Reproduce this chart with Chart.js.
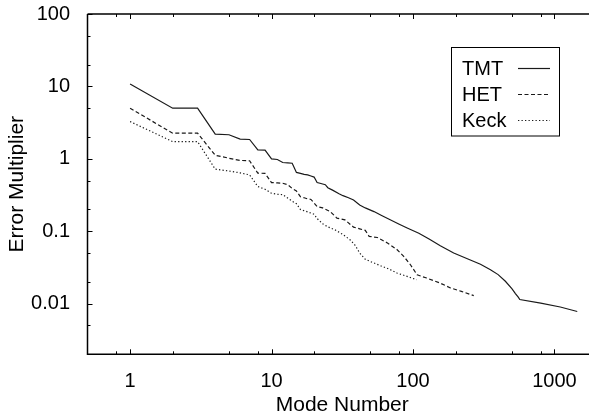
<!DOCTYPE html>
<html>
<head>
<meta charset="utf-8">
<script src="https://cdn.jsdelivr.net/npm/chart.js@4"></script>
<style>
  html, body { margin: 0; padding: 0; background: #fff; overflow: hidden; }
  #wrap { width: 597px; height: 418px; }
</style>
</head>
<body>
<div id="wrap"><canvas id="myCanvas" width="597" height="418"></canvas></div>
<script>
// mode numbers and error multipliers
const tmtModes = [1, 2, 3, 4, 5, 6, 7, 8, 9, 10, 11, 12, 13, 14, 15, 16, 17, 18, 19, 20,
  21, 22, 24, 25, 27, 30, 32, 35, 38, 42, 46, 53, 60, 69, 80, 91, 110, 130, 156, 194,
  240, 300, 353, 400, 450, 500, 530, 555, 569, 800, 1100, 1450];
const tmtValues = [10.8, 5.0, 5.0, 2.19, 2.15, 1.87, 1.85, 1.33, 1.32, 1.0, 0.98, 0.89, 0.88, 0.87, 0.65, 0.63, 0.61, 0.6, 0.58, 0.56,
  0.47, 0.46, 0.44, 0.4, 0.37, 0.33, 0.31, 0.29, 0.27, 0.23, 0.21, 0.187, 0.165, 0.144, 0.125, 0.111, 0.094, 0.078, 0.063, 0.05,
  0.042, 0.035, 0.0295, 0.0252, 0.0204, 0.0161, 0.0138, 0.0123, 0.0114, 0.0102, 0.009, 0.0078];

const hetModes = [1, 2, 3, 4, 5, 6, 7, 8, 9, 10, 11, 12, 13, 14, 15, 16, 17, 18, 19, 21,
  23, 26, 29, 33, 38, 42, 46, 49, 56, 66, 77, 86, 96, 107, 125, 155, 184, 220, 269];
const hetValues = [5.0, 2.26, 2.26, 1.12, 1.02, 0.95, 0.94, 0.635, 0.63, 0.47, 0.465, 0.46, 0.44, 0.39, 0.36, 0.3, 0.29, 0.28, 0.275, 0.22,
  0.21, 0.187, 0.152, 0.144, 0.114, 0.108, 0.103, 0.085, 0.082, 0.069, 0.056, 0.045, 0.0345, 0.025, 0.0226, 0.0193, 0.0165, 0.0148, 0.0129];

const keckModes = [1, 2, 3, 4, 5, 6, 7, 8, 9, 10, 11, 12, 14, 15, 16, 18, 20, 21, 23, 25,
  28, 32, 36, 39, 42, 46, 52, 59, 68, 77, 90, 106];
const keckValues = [3.27, 1.73, 1.73, 0.72, 0.68, 0.64, 0.6, 0.415, 0.38, 0.335, 0.325, 0.32, 0.26, 0.24, 0.2, 0.185, 0.172, 0.15, 0.127, 0.115,
  0.105, 0.09, 0.076, 0.064, 0.05, 0.041, 0.037, 0.0334, 0.03, 0.0265, 0.024, 0.0214];

const seriesNames = ["TMT", "HET", "Keck"];

const xTickValues = [1, 10, 100, 1000];
const xTickLabels = ["1", "10", "100", "1000"];
const xMinorValues = [0.8, 2, 5, 8, 20, 50, 80, 200, 500, 800];
const yTickValues = [0.01, 0.1, 1, 10, 100];
const yTickLabels = ["0.01", "0.1", "1", "10", "100"];
const yMinorValues = [50, 20, 5, 2, 0.5, 0.2, 0.05, 0.02, 0.005];

const FONT = "'Liberation Sans', Arial, Helvetica, sans-serif";
const INK = "#1a1a1a";

const toPoints = (xs, ys) => xs.map((x, i) => ({ x: x, y: ys[i] }));

// inward tick marks + frame (left, bottom, top)
const framePlugin = {
  id: "frame",
  afterDraw(chart) {
    const { ctx, chartArea: a } = chart;
    const xs = chart.scales.x;
    const ys = chart.scales.y;
    ctx.save();
    ctx.strokeStyle = "#000";
    ctx.lineWidth = 1.5;
    ctx.beginPath();
    ctx.moveTo(a.left, a.top);
    ctx.lineTo(a.left, a.bottom);
    ctx.lineTo(a.right + 2, a.bottom);
    ctx.moveTo(a.left, a.top);
    ctx.lineTo(a.right + 2, a.top);
    ctx.stroke();

    ctx.lineWidth = 1;
    const xTick = (v, len) => {
      const p = Math.round(xs.getPixelForValue(v)) + 0.5;
      ctx.moveTo(p, a.bottom);
      ctx.lineTo(p, a.bottom - len);
      ctx.moveTo(p, a.top);
      ctx.lineTo(p, a.top + len);
    };
    const yTick = (v, len) => {
      const p = Math.round(ys.getPixelForValue(v)) + 0.5;
      ctx.moveTo(a.left, p);
      ctx.lineTo(a.left + len, p);
    };
    ctx.beginPath();
    xTickValues.forEach((v) => xTick(v, 5));
    xMinorValues.forEach((v) => xTick(v, 3));
    yTickValues.forEach((v) => yTick(v, 5));
    yMinorValues.forEach((v) => yTick(v, 3));
    ctx.stroke();
    ctx.restore();
  },
};

// legend box with the line sample to the right of the name
const legendPlugin = {
  id: "boxLegend",
  afterDraw(chart) {
    const { ctx } = chart;
    ctx.save();
    ctx.strokeStyle = "#000";
    ctx.lineWidth = 1;
    ctx.strokeRect(451.5, 47.5, 108, 88.5);
    ctx.font = "20px " + FONT;
    ctx.textBaseline = "middle";
    ctx.textAlign = "left";
    chart.data.datasets.forEach((ds, i) => {
      const y = 68 + i * 26;
      ctx.fillStyle = "#000";
      ctx.fillText(ds.label, 462, y + 1);
      ctx.strokeStyle = INK;
      ctx.lineWidth = 1.2;
      ctx.setLineDash(ds.borderDash || []);
      ctx.beginPath();
      ctx.moveTo(518, y + 0.5);
      ctx.lineTo(550, y + 0.5);
      ctx.stroke();
    });
    ctx.restore();
  },
};

const line = document.getElementById("myCanvas");
new Chart(line, {
  type: "line",
  data: {
    datasets: [
      {
        label: seriesNames[0],
        data: toPoints(tmtModes, tmtValues),
        borderColor: INK,
        borderWidth: 1.2,
        fill: false,
      },
      {
        label: seriesNames[1],
        data: toPoints(hetModes, hetValues),
        borderColor: INK,
        borderWidth: 1.2,
        borderDash: [4, 2.5],
        fill: false,
      },
      {
        label: seriesNames[2],
        data: toPoints(keckModes, keckValues),
        borderColor: INK,
        borderWidth: 1.2,
        borderDash: [1.3, 2.2],
        fill: false,
      },
    ],
  },
  options: {
    responsive: false,
    animation: false,
    events: [],
    elements: {
      point: { radius: 0 },
      line: { tension: 0 },
    },
    layout: { padding: { top: 14, right: 0, bottom: 0, left: 0 } },
    plugins: {
      legend: { display: false },
      tooltip: { enabled: false },
    },
    scales: {
      x: {
        type: "logarithmic",
        min: 0.5,
        max: 2000,
        grid: { display: false },
        border: { display: false },
        afterBuildTicks: (scale) => {
          scale.ticks = xTickValues.map((v) => ({ value: v }));
        },
        afterFit: (scale) => {
          scale.height = 63.7;
          scale.paddingLeft = 0;
          scale.paddingRight = 0;
        },
        ticks: {
          autoSkip: false,
          maxRotation: 0,
          padding: 7,
          color: "#000",
          font: { family: FONT, size: 20 },
          callback: (v) => xTickLabels[xTickValues.indexOf(v)],
        },
        title: {
          display: true,
          text: "Mode Number",
          color: "#000",
          padding: { top: 0, bottom: 0 },
          font: { family: FONT, size: 21 },
        },
      },
      y: {
        type: "logarithmic",
        min: 0.002,
        max: 100,
        grid: { display: false },
        border: { display: false },
        afterBuildTicks: (scale) => {
          scale.ticks = yTickValues.map((v) => ({ value: v }));
        },
        afterFit: (scale) => {
          scale.width = 87.5;
          scale.paddingTop = 0;
          scale.paddingBottom = 0;
        },
        ticks: {
          autoSkip: false,
          padding: 9.5,
          color: "#000",
          font: { family: FONT, size: 20 },
          callback: (v) => yTickLabels[yTickValues.indexOf(v)],
        },
        title: {
          display: true,
          text: "Error Multiplier",
          color: "#000",
          padding: { top: 5, bottom: 0 },
          font: { family: FONT, size: 21 },
        },
      },
    },
  },
  plugins: [framePlugin, legendPlugin],
});
</script>
</body>
</html>
